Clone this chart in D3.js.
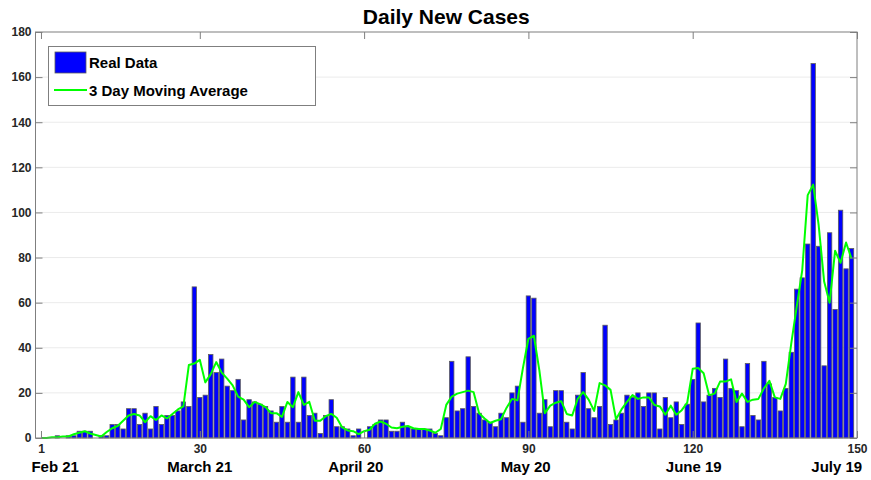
<!DOCTYPE html>
<html>
<head>
  <meta charset="utf-8">
  <script src="https://d3js.org/d3.v7.min.js"></script>
  <style>
    body { margin: 0; background: #fff; }
    text { font-family: "Liberation Sans", Arial, sans-serif; font-weight: bold; }
  </style>
</head>
<body>
<script type="text/javascript">
  // daily new cases, day 1 .. 149
  var cases = [
    0, 0, 0, 1, 0, 1, 1, 3, 3, 3,
    0, 1, 1, 6, 6, 4, 13, 13, 6, 11,
    4, 14, 6, 10, 10, 12, 16, 14, 67, 18,
    19, 37, 29, 35, 23, 21, 26, 8, 17, 16,
    15, 14, 12, 7, 14, 7, 27, 7, 27, 10,
    11, 2, 10, 17, 5, 5, 4, 1, 4, 0,
    5, 6, 8, 8, 3, 3, 7, 5, 4, 4,
    4, 4, 2, 1, 9, 34, 12, 13, 36, 14,
    11, 8, 7, 5, 11, 9, 20, 23, 7, 63,
    62, 11, 17, 5, 21, 21, 7, 4, 19, 29,
    13, 9, 14, 50, 6, 8, 11, 19, 18, 20,
    14, 20, 20, 4, 18, 9, 16, 6, 15, 26,
    51, 16, 19, 22, 18, 35, 22, 21, 5, 33,
    10, 8, 34, 24, 18, 12, 22, 38, 66, 71,
    86, 166, 85, 32, 91, 57, 101, 75, 84
  ];
  var days = d3.range(1, cases.length + 1);

  var xTicks = [1, 30, 60, 90, 120, 150];
  var yTicks = d3.range(0, 181, 20);
  var dateLabels = ["Feb 21", "March 21", "April 20", "May 20", "June 19", "July 19"];
  // where the date captions sit, in day units
  var dateLabelPos = [3.6, 30, 58.5, 89.5, 120.2, 146.3];

  // 3 day moving average (centered, ends shrink like movmean)
  var movAvg = cases.map(function(v, i) {
    return d3.mean(cases.slice(Math.max(0, i - 1), Math.min(cases.length, i + 2)));
  });

  function draw() {
    var width = 871, height = 480;
    var pL = 35.5, pR = 857, pT = 32, pB = 438;
    var axisColor = "#7f7f7f";

    var svg = d3.select("body").append("svg")
      .attr("width", width)
      .attr("height", height);

    var x = d3.scaleLinear().domain([0, 150]).range([pL, pR]);
    var y = d3.scaleLinear().domain([0, 180]).range([pB, pT]);

    // grid
    svg.append("g")
      .selectAll("line")
      .data(yTicks.slice(1, -1))
      .enter().append("line")
      .attr("x1", pL).attr("x2", pR)
      .attr("y1", function(d) { return y(d); })
      .attr("y2", function(d) { return y(d); })
      .style("stroke", "#ebebeb")
      .style("stroke-width", 1);

    // bars
    var bw = (x(1) - x(0)) * 0.8;
    svg.append("g")
      .selectAll("rect")
      .data(days)
      .enter().append("rect")
      .attr("x", function(d) { return x(d) - bw / 2; })
      .attr("y", function(d, i) { return y(cases[i]); })
      .attr("width", bw)
      .attr("height", function(d, i) { return pB - y(cases[i]); })
      .style("fill", "#0000ff")
      .style("stroke", "#5c5c5c")
      .style("stroke-width", 0.8);

    // moving average
    var line = d3.line()
      .x(function(d, i) { return x(days[i]); })
      .y(function(d) { return y(d); });

    svg.append("path")
      .datum(movAvg)
      .attr("d", line)
      .style("fill", "none")
      .style("stroke", "#00ff00")
      .style("stroke-width", 2)
      .style("stroke-linejoin", "round");

    // axes box
    svg.append("rect")
      .attr("x", pL).attr("y", pT)
      .attr("width", pR - pL).attr("height", pB - pT)
      .style("fill", "none")
      .style("stroke", axisColor)
      .style("stroke-width", 1);

    var tickLen = 7;
    var gy = svg.append("g").attr("transform", "translate(" + pL + ",0)")
      .call(d3.axisLeft(y).tickValues(yTicks).tickSize(-tickLen).tickPadding(4));
    gy.select(".domain").remove();
    gy.selectAll(".tick line").style("stroke", axisColor);
    gy.selectAll("text")
      .style("font-size", "12px")
      .style("fill", "#262626")
      .style("font-family", "Liberation Sans, Arial, sans-serif")
      .style("font-weight", "bold");

    var gyR = svg.append("g").attr("transform", "translate(" + pR + ",0)")
      .call(d3.axisRight(y).tickValues(yTicks).tickSize(-tickLen).tickFormat(""));
    gyR.select(".domain").remove();
    gyR.selectAll(".tick line").style("stroke", axisColor);

    var gx = svg.append("g").attr("transform", "translate(0," + pB + ")")
      .call(d3.axisBottom(x).tickValues(xTicks).tickSize(-tickLen).tickPadding(6));
    gx.select(".domain").remove();
    gx.selectAll(".tick line").style("stroke", axisColor);
    gx.selectAll("text")
      .style("font-size", "12px")
      .style("fill", "#262626")
      .style("font-family", "Liberation Sans, Arial, sans-serif")
      .style("font-weight", "bold");

    var gxT = svg.append("g").attr("transform", "translate(0," + pT + ")")
      .call(d3.axisTop(x).tickValues(xTicks).tickSize(-tickLen).tickFormat(""));
    gxT.select(".domain").remove();
    gxT.selectAll(".tick line").style("stroke", axisColor);

    // date captions under the ticks
    svg.append("g")
      .selectAll("text")
      .data(dateLabels)
      .enter().append("text")
      .attr("x", function(d, i) { return x(dateLabelPos[i]); })
      .attr("y", 472)
      .attr("text-anchor", "middle")
      .style("font-size", "15px")
      .style("fill", "#000")
      .text(function(d) { return d; });

    // title
    svg.append("text")
      .attr("x", (pL + pR) / 2)
      .attr("y", 24)
      .attr("text-anchor", "middle")
      .style("font-size", "21px")
      .style("fill", "#000")
      .text("Daily New Cases");

    // legend
    var lg = svg.append("g");
    lg.append("rect")
      .attr("x", 48.5).attr("y", 46.5)
      .attr("width", 267).attr("height", 59)
      .style("fill", "#fff")
      .style("stroke", axisColor);
    lg.append("rect")
      .attr("x", 55).attr("y", 52)
      .attr("width", 31).attr("height", 21)
      .style("fill", "#0000ff")
      .style("stroke", "#5c5c5c")
      .style("stroke-width", 0.8);
    lg.append("text")
      .attr("x", 89).attr("y", 68)
      .style("font-size", "15px")
      .text("Real Data");
    lg.append("line")
      .attr("x1", 54).attr("x2", 87)
      .attr("y1", 90).attr("y2", 90)
      .style("stroke", "#00ff00")
      .style("stroke-width", 2);
    lg.append("text")
      .attr("x", 89).attr("y", 96)
      .style("font-size", "15px")
      .text("3 Day Moving Average");
  }

  draw();
</script>
</body>
</html>
